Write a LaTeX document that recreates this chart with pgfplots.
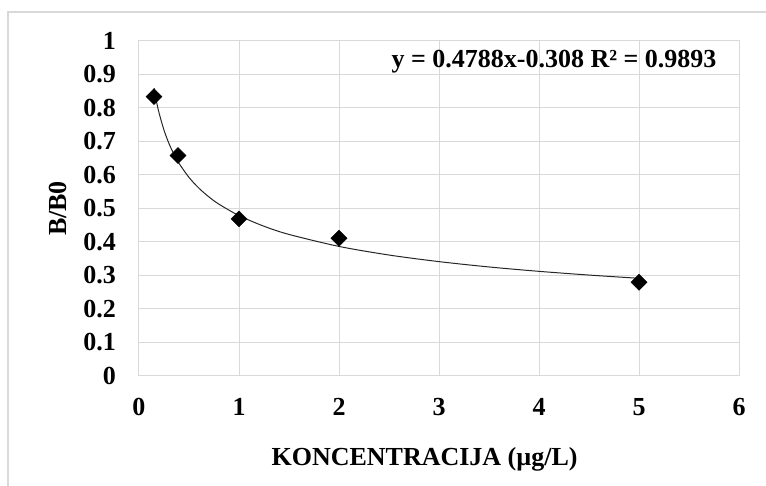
\documentclass[border=0pt]{standalone}
\usepackage{fontspec}
\setmainfont{Liberation Serif}
\usepackage{pgfplots}
\pgfplotsset{compat=1.18}
\definecolor{gridgray}{HTML}{D9D9D9}
\begin{document}
\begin{tikzpicture}
\useasboundingbox (0,0) rectangle (766pt,486pt);
% chart frame (only top and left edges show)
\draw[gridgray, line width=1.5pt] (8pt,-2pt) -- (8pt,474pt) -- (770pt,474pt);
\begin{axis}[
    at={(139pt,110pt)}, anchor=south west,
    width=600pt, height=335pt, scale only axis,
    xmin=0, xmax=6, ymin=0, ymax=1,
    xtick={0,1,2,3,4,5,6},
    ytick={0,0.1,0.2,0.3,0.4,0.5,0.6,0.7,0.8,0.9,1},
    grid=major,
    major grid style={gridgray, line width=1pt},
    axis line style={gridgray, line width=1pt},
    major tick length=0pt,
    tick label style={font=\fontsize{26}{30}\selectfont\bfseries},
    /pgf/number format/assume math mode=true,
    yticklabel style={anchor=east, inner sep=0pt, xshift=-23pt},
    xticklabel style={anchor=north, inner sep=0pt, yshift=-22pt},
    xlabel={KONCENTRACIJA (µg/L)},
    ylabel={B/B0},
    label style={font=\fontsize{26}{30}\selectfont\bfseries},
    xlabel style={at={(axis description cs:0.476,-0.2657)}, anchor=base},
    ylabel style={at={(axis description cs:-0.135,0.5)}, anchor=center},
]
% power trendline y = 0.4788 x^-0.308
\addplot[black!85, line width=1pt, smooth] coordinates {
    (0.15,0.8589) (0.175,0.8191) (0.2,0.7860) (0.25,0.7338) (0.3,0.6937)
    (0.35,0.6616) (0.4,0.6349) (0.5,0.5928) (0.6,0.5604) (0.7,0.5344)
    (0.8,0.5128) (1,0.4788) (1.25,0.4470) (1.5,0.4226) (2,0.3868)
    (2.5,0.3611) (3,0.3414) (3.5,0.3255) (4,0.3124) (4.5,0.3013) (5,0.2916)
};
\addplot[only marks, mark=square*, mark size=5.7pt,
    mark options={rotate=45, fill=black, draw=black}] coordinates {
    (0.15,0.834) (0.39,0.658) (1,0.469) (2,0.411) (5,0.280)
};
\node[anchor=base west, font=\fontsize{26}{30}\selectfont\bfseries]
    at (axis description cs:0.415,0.922) {y = 0.4788x-0.308 R² = 0.9893};
\end{axis}
\end{tikzpicture}
\end{document}
